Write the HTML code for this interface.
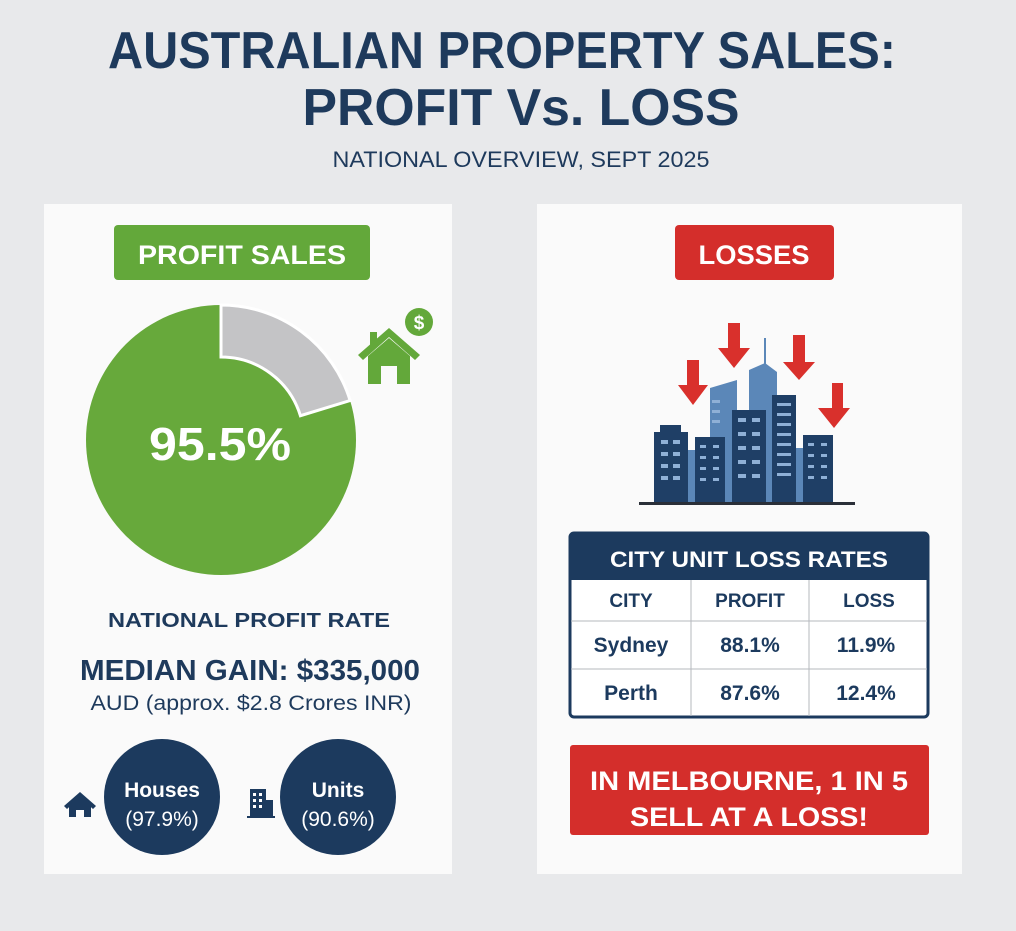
<!DOCTYPE html>
<html><head><meta charset="utf-8"><style>
html,body{margin:0;padding:0;background:#e8e9eb;}
svg{display:block;}
text{font-family:"Liberation Sans",sans-serif;}
</style></head><body>
<svg width="1016" height="931" viewBox="0 0 1016 931" xmlns="http://www.w3.org/2000/svg">
<rect width="1016" height="931" fill="#e8e9eb"/>
<text x="502" y="68" text-anchor="middle" font-size="52" font-weight="bold" fill="#1e3a5c" textLength="788" lengthAdjust="spacingAndGlyphs">AUSTRALIAN PROPERTY SALES:</text>
<text x="521" y="125" text-anchor="middle" font-size="52" font-weight="bold" fill="#1e3a5c" textLength="437" lengthAdjust="spacingAndGlyphs">PROFIT Vs. LOSS</text>
<text x="521" y="167" text-anchor="middle" font-size="22" fill="#1e3a5c" textLength="377" lengthAdjust="spacingAndGlyphs">NATIONAL OVERVIEW, SEPT 2025</text>

<rect x="44" y="204" width="408" height="670" fill="#fafafa"/>
<rect x="537" y="204" width="425" height="670" fill="#fafafa"/>

<rect x="114" y="225" width="256" height="55" rx="4" fill="#63a83a"/>
<text x="242" y="264" text-anchor="middle" font-size="27" font-weight="bold" fill="#fff" textLength="208" lengthAdjust="spacingAndGlyphs">PROFIT SALES</text>
<rect x="675" y="225" width="159" height="55" rx="4" fill="#d42e2b"/>
<text x="754" y="264" text-anchor="middle" font-size="27" font-weight="bold" fill="#fff" textLength="111" lengthAdjust="spacingAndGlyphs">LOSSES</text>

<circle cx="221" cy="440" r="135" fill="#67a93b"/>
<path d="M221,305 A135,135 0 0 1 350.1,400.5 L300.4,415.7 A83,83 0 0 0 221,357 Z" fill="#c4c4c6" stroke="#fff" stroke-width="3"/>
<text x="220" y="460" text-anchor="middle" font-size="46" font-weight="bold" fill="#fff" textLength="142" lengthAdjust="spacingAndGlyphs">95.5%</text>

<!-- green house icon -->
<g fill="#63a83a">
<polygon points="358,355 389,328 420,355 415,360 389,337 363,360"/>
<rect x="370" y="332" width="7" height="14"/>
<path d="M368,356 L389,338 L410,356 L410,384 L397,384 L397,366 L381,366 L381,384 L368,384 Z"/>
<circle cx="419" cy="322" r="14"/>
</g>
<text x="419" y="329" text-anchor="middle" font-size="19" font-weight="bold" fill="#fff">$</text>

<text x="249" y="627" text-anchor="middle" font-size="20" font-weight="bold" fill="#1e3a5c" textLength="282" lengthAdjust="spacingAndGlyphs">NATIONAL PROFIT RATE</text>
<text x="250" y="680" text-anchor="middle" font-size="29" font-weight="bold" fill="#1e3a5c" textLength="340" lengthAdjust="spacingAndGlyphs">MEDIAN GAIN: $335,000</text>
<text x="251" y="710" text-anchor="middle" font-size="21" fill="#1e3a5c" textLength="321" lengthAdjust="spacingAndGlyphs">AUD (approx. $2.8 Crores INR)</text>

<circle cx="162" cy="797" r="58" fill="#1c3a5e"/>
<circle cx="338" cy="797" r="58" fill="#1c3a5e"/>
<text x="162" y="797" text-anchor="middle" font-size="21" font-weight="bold" fill="#fff">Houses</text>
<text x="162" y="826" text-anchor="middle" font-size="21" fill="#fff">(97.9%)</text>
<text x="338" y="797" text-anchor="middle" font-size="21" font-weight="bold" fill="#fff">Units</text>
<text x="338" y="826" text-anchor="middle" font-size="21" fill="#fff">(90.6%)</text>
<g fill="#1c3a5e">
<polygon points="64,806 80,792 96,806 93,809 80,797 67,809"/>
<path d="M69,805 L80,796 L91,805 L91,817 L84,817 L84,810 L76,810 L76,817 L69,817 Z"/>
<rect x="250" y="789" width="16" height="29"/>
<rect x="266" y="800" width="7" height="18"/>
<rect x="247" y="816" width="28" height="2"/>
</g>
<g fill="#fff">
<rect x="253" y="793" width="3" height="3"/><rect x="259" y="793" width="3" height="3"/>
<rect x="253" y="799" width="3" height="3"/><rect x="259" y="799" width="3" height="3"/>
<rect x="253" y="805" width="3" height="3"/><rect x="259" y="805" width="3" height="3"/>
</g>

<!-- city -->
<g fill="#5b87b8">
<polygon points="710,388 737,380 737,502 710,502"/>
<polygon points="749,370 765,363 777,372 777,502 749,502"/>
<rect x="764" y="338" width="2" height="28"/>
<rect x="688" y="450" width="8" height="52"/>
<rect x="796" y="448" width="8" height="54"/>
</g>
<g fill="#1f3f66">
<rect x="654" y="432" width="34" height="70"/><rect x="660" y="425" width="21" height="8"/>
<rect x="695" y="437" width="30" height="65"/>
<rect x="732" y="410" width="34" height="92"/>
<rect x="772" y="395" width="24" height="107"/>
<rect x="803" y="435" width="30" height="67"/>
</g>
<g fill="#8fb0d6">
<rect x="661" y="440" width="7" height="4"/><rect x="673" y="440" width="7" height="4"/>
<rect x="661" y="452" width="7" height="4"/><rect x="673" y="452" width="7" height="4"/>
<rect x="661" y="464" width="7" height="4"/><rect x="673" y="464" width="7" height="4"/>
<rect x="661" y="476" width="7" height="4"/><rect x="673" y="476" width="7" height="4"/>
<rect x="700" y="445" width="6" height="3"/><rect x="713" y="445" width="6" height="3"/>
<rect x="700" y="456" width="6" height="3"/><rect x="713" y="456" width="6" height="3"/>
<rect x="700" y="467" width="6" height="3"/><rect x="713" y="467" width="6" height="3"/>
<rect x="700" y="478" width="6" height="3"/><rect x="713" y="478" width="6" height="3"/>
<rect x="738" y="418" width="8" height="4"/><rect x="752" y="418" width="8" height="4"/>
<rect x="738" y="432" width="8" height="4"/><rect x="752" y="432" width="8" height="4"/>
<rect x="738" y="446" width="8" height="4"/><rect x="752" y="446" width="8" height="4"/>
<rect x="738" y="460" width="8" height="4"/><rect x="752" y="460" width="8" height="4"/>
<rect x="738" y="474" width="8" height="4"/><rect x="752" y="474" width="8" height="4"/>
<rect x="777" y="403" width="14" height="3"/><rect x="777" y="413" width="14" height="3"/>
<rect x="777" y="423" width="14" height="3"/><rect x="777" y="433" width="14" height="3"/>
<rect x="777" y="443" width="14" height="3"/><rect x="777" y="453" width="14" height="3"/>
<rect x="777" y="463" width="14" height="3"/><rect x="777" y="473" width="14" height="3"/>
<rect x="808" y="443" width="6" height="3"/><rect x="821" y="443" width="6" height="3"/>
<rect x="808" y="454" width="6" height="3"/><rect x="821" y="454" width="6" height="3"/>
<rect x="808" y="465" width="6" height="3"/><rect x="821" y="465" width="6" height="3"/>
<rect x="808" y="476" width="6" height="3"/><rect x="821" y="476" width="6" height="3"/>
<rect x="712" y="400" width="8" height="3"/><rect x="712" y="410" width="8" height="3"/><rect x="712" y="420" width="8" height="3"/>
</g>
<rect x="639" y="502" width="216" height="3" fill="#2a2f38"/>
<g fill="#d9302c">
<polygon points="687,360 699,360 699,385 708,385 693,405 678,385 687,385"/>
<polygon points="728,323 740,323 740,348 750,348 734,368 718,348 728,348"/>
<polygon points="793,335 805,335 805,362 815,362 799,380 783,362 793,362"/>
<polygon points="832,383 843,383 843,408 850,408 834,428 818,408 832,408"/>
</g>

<!-- table -->
<rect x="570" y="533" width="358" height="184" rx="4" fill="#fff" stroke="#1c3a5e" stroke-width="3"/>
<path d="M570,580 L570,537 Q570,533 574,533 L924,533 Q928,533 928,537 L928,580 Z" fill="#1c3a5e"/>
<text x="749" y="567" text-anchor="middle" font-size="22" font-weight="bold" fill="#fff" textLength="278" lengthAdjust="spacingAndGlyphs">CITY UNIT LOSS RATES</text>
<line x1="691" y1="580" x2="691" y2="716" stroke="#b5b8bd" stroke-width="1"/>
<line x1="809" y1="580" x2="809" y2="716" stroke="#b5b8bd" stroke-width="1"/>
<line x1="571" y1="621" x2="927" y2="621" stroke="#b5b8bd" stroke-width="1"/>
<line x1="571" y1="669" x2="927" y2="669" stroke="#b5b8bd" stroke-width="1"/>
<g fill="#1c3a5e" font-weight="bold" text-anchor="middle">
<text x="631" y="607" font-size="19">CITY</text>
<text x="750" y="607" font-size="19">PROFIT</text>
<text x="869" y="607" font-size="19">LOSS</text>
<text x="631" y="652" font-size="21">Sydney</text>
<text x="750" y="652" font-size="21">88.1%</text>
<text x="866" y="652" font-size="21">11.9%</text>
<text x="631" y="700" font-size="21">Perth</text>
<text x="750" y="700" font-size="21">87.6%</text>
<text x="866" y="700" font-size="21">12.4%</text>
</g>

<rect x="570" y="745" width="359" height="90" rx="3" fill="#d42e2b"/>
<text x="749" y="790" text-anchor="middle" font-size="27" font-weight="bold" fill="#fff" textLength="318" lengthAdjust="spacingAndGlyphs">IN MELBOURNE, 1 IN 5</text>
<text x="749" y="826" text-anchor="middle" font-size="27" font-weight="bold" fill="#fff" textLength="238" lengthAdjust="spacingAndGlyphs">SELL AT A LOSS!</text>
</svg>
</body></html>
